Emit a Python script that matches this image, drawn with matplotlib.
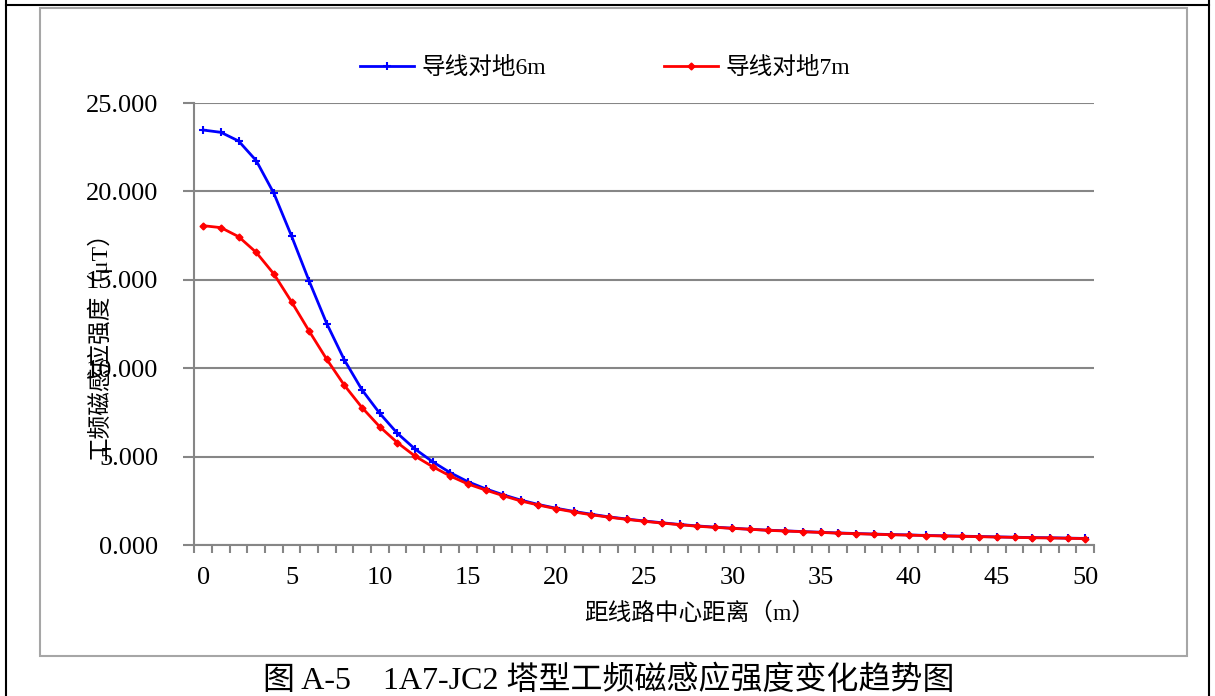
import matplotlib
matplotlib.use('Agg')
import matplotlib.pyplot as plt
from matplotlib.lines import Line2D
from matplotlib.patches import Rectangle

plt.rcParams['font.family'] = ['Liberation Serif', 'Noto Sans CJK SC', 'DejaVu Sans']

# distance from line centre (m), categories 0..50
distance = list(range(51))

# magnetic induction (uT), conductor height 6 m
b_6m = [23.47, 23.34, 22.85, 21.74, 19.89, 17.48, 14.93, 12.52, 10.46, 8.77,
        7.45, 6.32, 5.43, 4.71, 4.09, 3.58, 3.18, 2.84, 2.54, 2.29,
        2.08, 1.90, 1.74, 1.59, 1.47, 1.36, 1.26, 1.16, 1.08, 1.01,
        0.95, 0.89, 0.84, 0.80, 0.76, 0.72, 0.68, 0.65, 0.62, 0.59,
        0.57, 0.54, 0.52, 0.50, 0.48, 0.46, 0.44, 0.42, 0.41, 0.39, 0.37]

# magnetic induction (uT), conductor height 7 m
b_7m = [18.06, 17.95, 17.44, 16.55, 15.33, 13.76, 12.10, 10.50, 9.03, 7.77,
        6.69, 5.79, 5.03, 4.43, 3.90, 3.45, 3.11, 2.79, 2.49, 2.26,
        2.05, 1.87, 1.71, 1.57, 1.45, 1.34, 1.24, 1.15, 1.06, 1.00,
        0.94, 0.89, 0.83, 0.79, 0.75, 0.71, 0.67, 0.64, 0.61, 0.58,
        0.56, 0.53, 0.51, 0.49, 0.47, 0.45, 0.43, 0.41, 0.40, 0.38, 0.36]

series_labels = ['导线对地6m', '导线对地7m']
y_ticks = [0, 5, 10, 15, 20, 25]
x_tick_labels = [0, 5, 10, 15, 20, 25, 30, 35, 40, 45, 50]

W, H = 1215, 696
fig = plt.figure(figsize=(W / 100, H / 100), dpi=100)


def fx(px):
    return px / W


def fy(py):
    return 1 - py / H


# table borders and chart frame
fig.add_artist(Line2D([fx(6), fx(6)], [0, 1], color='black', lw=1.5))
fig.add_artist(Line2D([fx(1209), fx(1209)], [0, 1], color='black', lw=1.5))
fig.add_artist(Line2D([fx(6), fx(1209)], [fy(5), fy(5)], color='black', lw=1.5))
fig.add_artist(Rectangle((fx(40), fy(656)), fx(1187) - fx(40), fy(8) - fy(656),
                         transform=fig.transFigure, fill=False,
                         edgecolor='#a6a6a6', lw=1.5))

ax = fig.add_axes([fx(194.5), fy(545), fx(1094) - fx(194.5), fy(103) - fy(545)])

ax.plot(distance, b_6m, color='#0000ff', lw=2, marker='+', markersize=6,
        markeredgewidth=1.5, label=series_labels[0])
ax.plot(distance, b_7m, color='#ff0000', lw=2, marker='D', markersize=3.5,
        label=series_labels[1])

ax.set_xlim(-0.5, 50.5)
ax.set_ylim(0, 25)

grid_c = '#868686'
for s in ['top', 'right']:
    ax.spines[s].set_visible(False)
for s in ['left', 'bottom']:
    ax.spines[s].set_color(grid_c)
    ax.spines[s].set_linewidth(1.5)

ax.set_yticks(y_ticks)
ax.set_yticklabels(['%.3f' % v for v in y_ticks])
ax.yaxis.grid(True, color=grid_c, lw=1.5)
ax.tick_params(axis='y', direction='out', length=8, width=1.5, color=grid_c,
               pad=18, labelsize=19)

# ticks between categories, labels every 5 m
ax.set_xticks([i - 0.5 for i in range(52)])
ax.set_xticklabels([])
ax.set_xticks(x_tick_labels, minor=True)
ax.set_xticklabels([str(v) for v in x_tick_labels], minor=True)
ax.tick_params(axis='x', which='major', direction='out', length=6, width=1.5,
               color=grid_c)
ax.tick_params(axis='x', which='minor', length=0, pad=16, labelsize=19)

fig.text(fx(99), fy(340), '工频磁感应强度（μT）', rotation=90, ha='center',
         va='center', fontsize=17)
fig.text(fx(700), fy(613), '距线路中心距离（m）', ha='center', va='center',
         fontsize=17)

fig.legend(loc='center', bbox_to_anchor=(fx(605), fy(68)), ncol=2,
           frameon=False, fontsize=17, handlelength=2.3, handletextpad=0.3,
           columnspacing=5.0)

fig.text(fx(609), fy(681), '图 A-5    1A7-JC2 塔型工频磁感应强度变化趋势图',
         ha='center', va='center', fontsize=23)

fig.savefig('out.png', dpi=100)
